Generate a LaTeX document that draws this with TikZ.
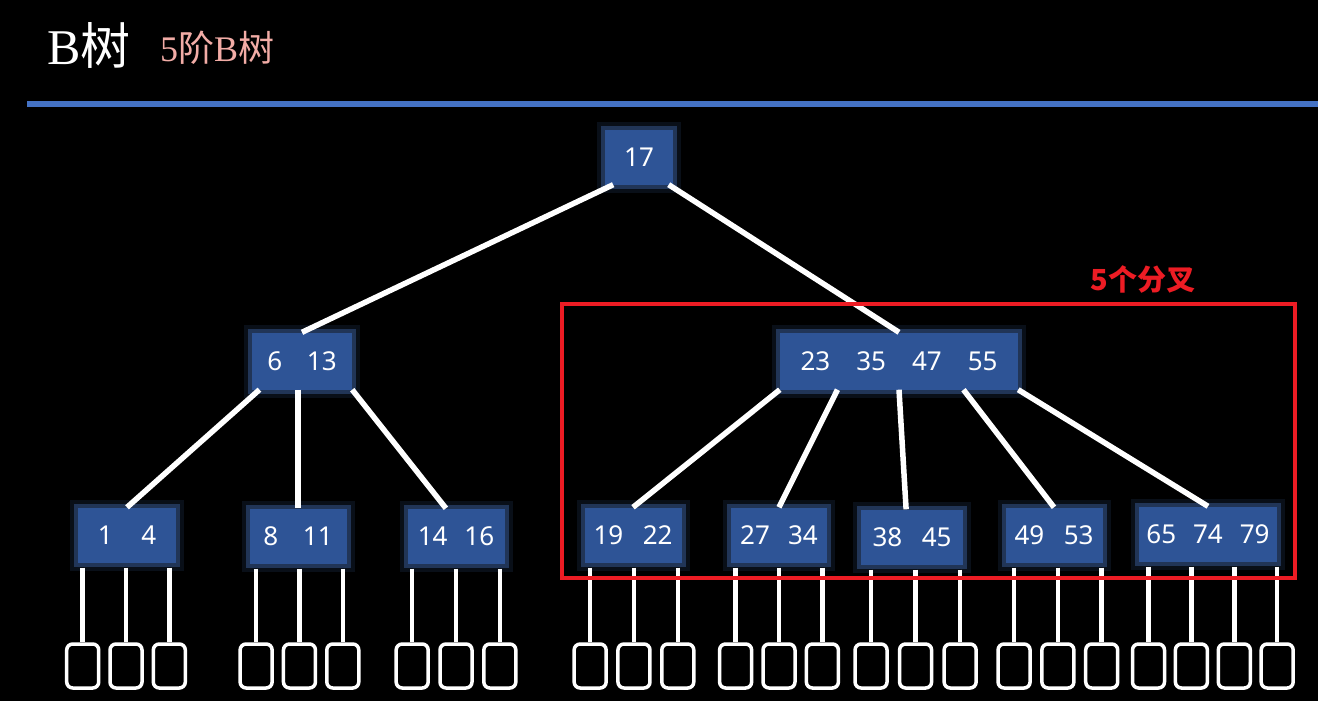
\documentclass[tikz,border=0pt]{standalone}
\usepackage{fontspec}
\setmainfont{Liberation Serif}
\setsansfont{Noto Sans}
\newfontfamily\cjk{Noto Sans CJK SC}
\usetikzlibrary{calc}

\definecolor{keyblue}{RGB}{46,84,150}
\definecolor{glowblue}{RGB}{80,125,205}
\definecolor{rulebl}{RGB}{68,114,196}
\definecolor{markred}{RGB}{237,28,36}
\definecolor{subpink}{RGB}{242,172,166}

\tikzset{
  key/.style={fill=keyblue, text=white, minimum height=55pt, inner sep=0pt,
    font=\sffamily\fontsize{26}{30}\selectfont,
    preaction={draw=glowblue, line width=16pt, opacity=.12},
    preaction={draw=glowblue, line width=8pt, opacity=.35}},
  link/.style={draw=white, line width=5.5pt},
  stick/.style={draw=white, line width=4.5pt},
  leaf/.style={draw=white, line width=3.5pt, rounded corners=6pt,
    minimum width=32pt, minimum height=44pt, inner sep=0pt},
}

\begin{document}
\begin{tikzpicture}[x=1pt, y=-1pt]
\useasboundingbox[fill=black] (0,0) rectangle (1318,701);

% heading
\node[anchor=base west, text=white, inner sep=0pt, font=\fontsize{50}{56}\selectfont] (title) at (47,65) {B{\cjk 树}};
\node[anchor=base west, text=subpink, inner sep=0pt, font=\fontsize{36}{40}\selectfont] (order) at (160,62) {5{\cjk 阶}B{\cjk 树}};
\draw[rulebl, line width=6pt] (27,104) -- (1318,104);

% keys
\node[key, minimum width=68pt] (root) at (639,157) {17};
\node[key, minimum width=100pt, minimum height=57pt] (left) at (302,361) {6\hspace{0.95em}13};
\node[key, minimum width=238pt, minimum height=57pt] (right) at (899,361) {23\hspace{1em}35\hspace{1em}47\hspace{1em}55};

\node[key, minimum width=98pt] (n1) at (127,535) {1\hspace{1.1em}4};
\node[key, minimum width=97pt] (n2) at (298,536) {8\hspace{0.95em}11};
\node[key, minimum width=97pt] (n3) at (456,536) {14\hspace{0.65em}16};
\node[key, minimum width=97pt] (n4) at (633,535) {19\hspace{0.75em}22};
\node[key, minimum width=96pt] (n5) at (779,535) {27\hspace{0.7em}34};
\node[key, minimum width=102pt] (n6) at (912,537) {38\hspace{0.75em}45};
\node[key, minimum width=97pt] (n7) at (1054,535) {49\hspace{0.75em}53};
\node[key, minimum width=138pt] (n8) at (1208,534) {65\hspace{0.65em}74\hspace{0.65em}79};

% links
\draw[link] (root.227) -- (left.north);
\draw[link] (root.317) -- (right.north);
\draw[link] (left.214) -- (n1.north);
\draw[link] (n2.north |- left.south) -- (n2.north);
\draw[link] (left.south east) -- (n3.110);
\draw[link] (right.south west) -- (n4.north);
\draw[link] (right.205) -- (n5.north);
\draw[link] (right.south) -- (n6.102);
\draw[link] (right.336) -- (n7.north);
\draw[link] (right.south east) -- (n8.north);

% empty children
\foreach \n/\k/\a/\b in {n1/3/0.05/0.93, n2/3/0.07/0.96, n3/3/0.05/0.95, n4/3/0.06/0.96,
    n5/3/0.05/0.95, n6/3/0.1/0.97, n7/3/0.09/0.99, n8/4/0.07/1.0}
  \foreach \i in {1,...,\k} {
    \pgfmathsetmacro\f{\a+(\b-\a)*(\i-1)/(\k-1)}
    \coordinate (\n-t\i) at ($(\n.south west)!\f!(\n.south east)$);
    \node[leaf] (\n-\i) at (\n-t\i |- 0,666) {};
    \draw[stick] ([yshift=-5pt]\n-t\i) -- (\n-\i.north);
  }

% five branches
\node[anchor=base, text=markred, inner sep=0pt, font=\cjk\bfseries\fontsize{29}{32}\selectfont] (note) at (1143,290) {5个分叉};
\draw[markred, line width=4pt] (562,304) rectangle (1295,578);
\end{tikzpicture}
\end{document}
